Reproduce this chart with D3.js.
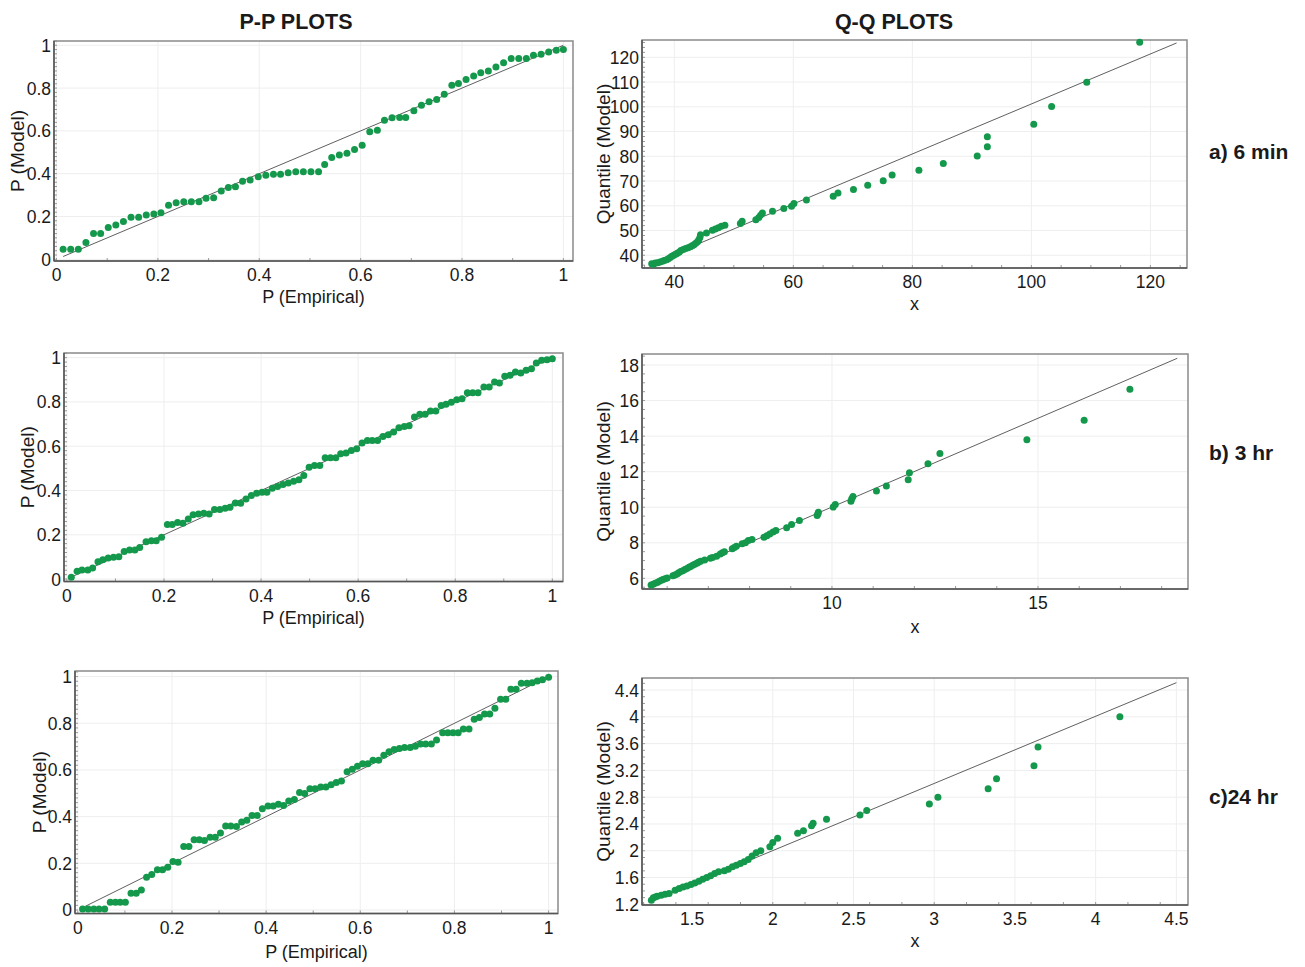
<!DOCTYPE html>
<html>
<head>
<meta charset="utf-8">
<script src="https://cdn.jsdelivr.net/npm/d3@7"></script>
<style>
  body { margin: 0; background: #fff; }
  svg text { font-family: "Liberation Sans", Arial, sans-serif; fill: #1a1a1a; }
</style>
</head>
<body>
<div id="chart"></div>
<script>
// P-P data: [P (Empirical), P (Model)]
var ppA = [[0.013,0.047],[0.028,0.047],[0.043,0.047],[0.058,0.078],[0.073,0.121],[0.087,0.121],[0.102,0.148],[0.117,0.160],[0.132,0.176],[0.147,0.196],[0.162,0.196],[0.177,0.207],[0.192,0.212],[0.206,0.218],[0.221,0.253],[0.236,0.264],[0.251,0.269],[0.266,0.269],[0.281,0.269],[0.295,0.285],[0.310,0.288],[0.325,0.319],[0.339,0.336],[0.353,0.339],[0.367,0.365],[0.382,0.370],[0.398,0.386],[0.413,0.393],[0.428,0.397],[0.442,0.397],[0.457,0.404],[0.472,0.409],[0.487,0.409],[0.502,0.409],[0.517,0.409],[0.529,0.443],[0.543,0.476],[0.558,0.487],[0.573,0.495],[0.588,0.513],[0.603,0.533],[0.618,0.596],[0.633,0.603],[0.647,0.650],[0.662,0.661],[0.677,0.663],[0.689,0.663],[0.705,0.694],[0.720,0.720],[0.735,0.736],[0.750,0.747],[0.765,0.771],[0.780,0.813],[0.793,0.821],[0.808,0.840],[0.823,0.857],[0.837,0.872],[0.852,0.880],[0.867,0.899],[0.882,0.918],[0.897,0.938],[0.912,0.938],[0.927,0.938],[0.941,0.953],[0.956,0.958],[0.971,0.969],[0.986,0.977],[1.0,0.980]];
var ppB = [[0.009,0.008],[0.021,0.035],[0.031,0.041],[0.043,0.041],[0.053,0.050],[0.064,0.078],[0.074,0.087],[0.085,0.095],[0.096,0.098],[0.107,0.101],[0.118,0.124],[0.129,0.131],[0.140,0.131],[0.150,0.143],[0.163,0.169],[0.174,0.173],[0.184,0.173],[0.195,0.189],[0.207,0.246],[0.217,0.246],[0.228,0.256],[0.239,0.252],[0.250,0.271],[0.260,0.290],[0.271,0.294],[0.282,0.297],[0.293,0.294],[0.304,0.314],[0.315,0.314],[0.326,0.320],[0.336,0.324],[0.347,0.344],[0.358,0.342],[0.369,0.362],[0.380,0.377],[0.391,0.388],[0.402,0.392],[0.412,0.392],[0.423,0.410],[0.434,0.418],[0.445,0.427],[0.456,0.434],[0.467,0.442],[0.478,0.449],[0.488,0.468],[0.499,0.505],[0.510,0.513],[0.521,0.513],[0.532,0.548],[0.543,0.548],[0.554,0.548],[0.564,0.566],[0.575,0.569],[0.586,0.581],[0.597,0.588],[0.608,0.615],[0.619,0.626],[0.629,0.626],[0.640,0.626],[0.651,0.644],[0.662,0.652],[0.673,0.664],[0.684,0.683],[0.695,0.689],[0.705,0.692],[0.716,0.732],[0.727,0.744],[0.738,0.744],[0.749,0.759],[0.760,0.759],[0.771,0.784],[0.781,0.789],[0.792,0.799],[0.803,0.810],[0.814,0.814],[0.825,0.842],[0.836,0.842],[0.847,0.842],[0.859,0.867],[0.870,0.867],[0.881,0.890],[0.891,0.885],[0.902,0.916],[0.913,0.920],[0.924,0.935],[0.935,0.931],[0.946,0.943],[0.957,0.950],[0.967,0.976],[0.978,0.988],[0.989,0.991],[1.0,0.995]];
var ppC = [[0.010,0.004],[0.022,0.004],[0.034,0.004],[0.045,0.004],[0.057,0.004],[0.069,0.033],[0.080,0.033],[0.090,0.033],[0.101,0.033],[0.113,0.072],[0.124,0.072],[0.135,0.086],[0.146,0.140],[0.157,0.152],[0.169,0.172],[0.180,0.172],[0.191,0.183],[0.202,0.208],[0.213,0.205],[0.225,0.272],[0.236,0.272],[0.247,0.301],[0.258,0.301],[0.269,0.298],[0.281,0.312],[0.292,0.312],[0.303,0.330],[0.314,0.360],[0.325,0.360],[0.337,0.358],[0.348,0.377],[0.359,0.384],[0.370,0.405],[0.381,0.405],[0.392,0.434],[0.404,0.446],[0.415,0.446],[0.426,0.453],[0.437,0.448],[0.448,0.467],[0.460,0.473],[0.471,0.503],[0.482,0.499],[0.493,0.520],[0.504,0.520],[0.516,0.527],[0.527,0.527],[0.538,0.537],[0.549,0.546],[0.560,0.553],[0.572,0.592],[0.583,0.603],[0.594,0.616],[0.605,0.627],[0.616,0.627],[0.627,0.642],[0.639,0.642],[0.650,0.663],[0.661,0.678],[0.672,0.688],[0.683,0.692],[0.694,0.696],[0.706,0.696],[0.717,0.702],[0.728,0.711],[0.739,0.711],[0.751,0.711],[0.762,0.728],[0.775,0.759],[0.786,0.759],[0.797,0.759],[0.808,0.759],[0.819,0.775],[0.831,0.775],[0.842,0.817],[0.853,0.825],[0.864,0.840],[0.875,0.840],[0.886,0.864],[0.898,0.903],[0.909,0.903],[0.920,0.946],[0.931,0.946],[0.942,0.971],[0.954,0.971],[0.965,0.974],[0.976,0.981],[0.987,0.986],[1.0,0.997]];

// Q-Q data: [x, Quantile (Model)]
var qqA = [[36.2,36.6],[36.5,36.4],[36.8,36.9],[37.2,37.0],[37.6,37.3],[38.0,37.6],[38.3,37.9],[38.7,38.2],[39.0,38.6],[39.3,39.1],[39.6,39.6],[39.9,40.0],[40.2,40.4],[40.5,40.8],[40.8,41.2],[41.1,41.9],[41.5,42.3],[41.9,42.7],[42.3,43.0],[42.7,43.4],[43.0,43.9],[43.3,44.3],[43.6,44.9],[43.9,45.5],[44.1,46.2],[44.3,47.2],[44.4,48.3],[45.4,49.0],[46.4,50.1],[46.9,50.6],[47.4,51.1],[47.9,51.7],[48.5,52.1],[51.1,52.8],[51.4,53.8],[53.7,54.4],[54.2,55.3],[54.5,56.2],[54.8,57.1],[56.5,57.8],[58.4,58.9],[59.7,59.8],[60.1,60.9],[62.2,62.3],[66.7,63.9],[67.5,65.2],[70.1,66.6],[72.5,68.3],[75.1,70.1],[76.6,72.4],[81.1,74.4],[85.2,77.1],[90.9,80.1],[92.6,83.9],[92.6,87.9],[100.4,93.0],[103.4,100.1],[109.3,109.9],[118.2,126.1]];
var qqB = [[5.61,5.62],[5.66,5.67],[5.71,5.72],[5.76,5.77],[5.81,5.83],[5.86,5.89],[5.90,5.94],[5.95,5.98],[6.00,6.02],[6.14,6.15],[6.19,6.19],[6.24,6.24],[6.28,6.31],[6.33,6.38],[6.38,6.43],[6.43,6.49],[6.48,6.56],[6.53,6.62],[6.57,6.67],[6.62,6.73],[6.67,6.79],[6.72,6.85],[6.76,6.90],[6.81,6.96],[6.91,7.03],[7.05,7.13],[7.10,7.17],[7.20,7.24],[7.29,7.37],[7.34,7.44],[7.39,7.50],[7.58,7.66],[7.63,7.73],[7.68,7.81],[7.82,7.94],[7.90,8.00],[7.97,8.13],[8.06,8.18],[8.35,8.31],[8.42,8.40],[8.49,8.50],[8.57,8.60],[8.64,8.69],[8.90,8.84],[9.02,9.03],[9.21,9.25],[9.64,9.54],[9.66,9.63],[9.67,9.72],[10.03,10.01],[10.08,10.16],[10.46,10.34],[10.48,10.48],[10.51,10.61],[11.08,10.91],[11.32,11.19],[11.85,11.55],[11.88,11.94],[12.33,12.45],[12.62,13.02],[14.73,13.80],[16.12,14.90],[17.23,16.64]];
var qqC = [[1.248,1.26],[1.26,1.30],[1.272,1.31],[1.284,1.32],[1.309,1.335],[1.333,1.35],[1.358,1.36],[1.395,1.41],[1.42,1.435],[1.444,1.46],[1.468,1.475],[1.493,1.495],[1.517,1.52],[1.542,1.545],[1.566,1.575],[1.591,1.60],[1.615,1.625],[1.64,1.66],[1.664,1.685],[1.70,1.70],[1.725,1.725],[1.75,1.76],[1.774,1.785],[1.799,1.81],[1.823,1.835],[1.848,1.87],[1.872,1.92],[1.897,1.97],[1.926,2.0],[1.982,2.06],[2.0,2.125],[2.03,2.185],[2.154,2.26],[2.19,2.30],[2.24,2.375],[2.25,2.41],[2.333,2.47],[2.54,2.535],[2.582,2.60],[2.97,2.70],[3.023,2.80],[3.334,2.925],[3.386,3.075],[3.618,3.27],[3.643,3.55],[4.15,4.0]];

// reference line end points
var ppLineA = [[0.013,0.013],[1,1]];
var ppLineB = [[0.009,0.009],[1,1]];
var ppLineC = [[0.01,0.01],[1,1]];
var qqLineA = [[36.2,36.7],[124.4,125.8]];
var qqLineB = [[5.6,5.62],[18.38,18.38]];
var qqLineC = [[1.25,1.25],[4.5,4.51]];

// tick values
var ppTicks = [0, 0.2, 0.4, 0.6, 0.8, 1];
var qqATicksX = [40, 60, 80, 100, 120];
var qqATicksY = [40, 50, 60, 70, 80, 90, 100, 110, 120];
var qqBTicksX = [10, 15];
var qqBTicksY = [6, 8, 10, 12, 14, 16, 18];
var qqCTicksX = [1.5, 2, 2.5, 3, 3.5, 4, 4.5];
var qqCTicksY = [1.2, 1.6, 2, 2.4, 2.8, 3.2, 3.6, 4, 4.4];

var columnTitles = ["P-P PLOTS", "Q-Q PLOTS"];
var rowLabels = ["a) 6 min", "b) 3 hr", "c)24 hr"];

var POINT_COLOR = "#14984b";
var LINE_COLOR = "#606060";

var svg = d3.select("#chart").append("svg")
  .attr("width", 1305)
  .attr("height", 967);

var drawPanel = function(p) {
  var x = d3.scaleLinear().domain(p.xDomain).range([p.x0, p.x1]);
  var y = d3.scaleLinear().domain(p.yDomain).range([p.y1, p.y0]);
  var g = svg.append("g");

  // faint grid
  g.selectAll(".gx").data(p.xTicks).enter().append("line")
    .attr("x1", d => x(d)).attr("x2", d => x(d))
    .attr("y1", p.y0).attr("y2", p.y1)
    .style("stroke", "#eeeeee").style("stroke-width", 1);
  g.selectAll(".gy").data(p.yTicks).enter().append("line")
    .attr("x1", p.x0).attr("x2", p.x1)
    .attr("y1", d => y(d)).attr("y2", d => y(d))
    .style("stroke", "#eeeeee").style("stroke-width", 1);

  // minor ticks
  g.selectAll(".mx").data(x.ticks(p.xMinor)).enter().append("line")
    .attr("x1", d => x(d)).attr("x2", d => x(d))
    .attr("y1", p.y1).attr("y2", p.y1 - 3)
    .style("stroke", "#999").style("stroke-width", 1);
  g.selectAll(".my").data(y.ticks(p.yMinor)).enter().append("line")
    .attr("x1", p.x0).attr("x2", p.x0 + 3)
    .attr("y1", d => y(d)).attr("y2", d => y(d))
    .style("stroke", "#999").style("stroke-width", 1);

  // frame
  g.append("rect")
    .attr("x", p.x0).attr("y", p.y0)
    .attr("width", p.x1 - p.x0).attr("height", p.y1 - p.y0)
    .style("fill", "none").style("stroke", "#8a8a8a").style("stroke-width", 1.5);
  g.append("line")
    .attr("x1", p.x0).attr("x2", p.x0).attr("y1", p.y0).attr("y2", p.y1)
    .style("stroke", "#555").style("stroke-width", 1.5);
  g.append("line")
    .attr("x1", p.x0).attr("x2", p.x1).attr("y1", p.y1).attr("y2", p.y1)
    .style("stroke", "#555").style("stroke-width", 1.5);

  // tick labels
  g.selectAll(".tx").data(p.xTicks).enter().append("text")
    .attr("x", d => x(d)).attr("y", p.y1 + 20)
    .attr("text-anchor", "middle")
    .style("font-size", "17.5px")
    .text(d => String(d));
  g.selectAll(".ty").data(p.yTicks).enter().append("text")
    .attr("x", p.x0 - 3).attr("y", d => y(d) + 6.5)
    .attr("text-anchor", "end")
    .style("font-size", "17.5px")
    .text(d => String(d));

  // reference line
  g.append("line")
    .attr("x1", x(p.line[0][0])).attr("y1", y(p.line[0][1]))
    .attr("x2", x(p.line[1][0])).attr("y2", y(p.line[1][1]))
    .style("stroke", LINE_COLOR).style("stroke-width", 1);

  // points
  g.selectAll(".pt").data(p.data).enter().append("circle")
    .attr("cx", d => x(d[0])).attr("cy", d => y(d[1]))
    .attr("r", 3.5)
    .style("fill", POINT_COLOR);

  // axis titles
  g.append("text")
    .attr("x", (p.x0 + p.x1) / 2).attr("y", p.y1 + p.xLabelDy)
    .attr("text-anchor", "middle")
    .style("font-size", "18px")
    .text(p.xLabel);
  g.append("text")
    .attr("transform", "translate(" + (p.x0 - p.yLabelDx) + "," + ((p.y0 + p.y1) / 2) + ") rotate(-90)")
    .attr("text-anchor", "middle")
    .style("font-size", "19px")
    .text(p.yLabel);
};

var panels = [
  { data: ppA, line: ppLineA, x0: 54, x1: 573, y0: 41, y1: 261, xDomain: [-0.005, 1.019], yDomain: [-0.008, 1.02],
    xTicks: ppTicks, yTicks: ppTicks, xMinor: 10, yMinor: 40, xLabel: "P (Empirical)", yLabel: "P (Model)", xLabelDy: 42, yLabelDx: 30 },
  { data: ppB, line: ppLineB, x0: 64, x1: 563, y0: 353, y1: 581.5, xDomain: [-0.006, 1.022], yDomain: [-0.011, 1.021],
    xTicks: ppTicks, yTicks: ppTicks, xMinor: 10, yMinor: 40, xLabel: "P (Empirical)", yLabel: "P (Model)", xLabelDy: 42, yLabelDx: 30 },
  { data: ppC, line: ppLineC, x0: 75, x1: 558, y0: 671, y1: 913.5, xDomain: [-0.006, 1.02], yDomain: [-0.015, 1.024],
    xTicks: ppTicks, yTicks: ppTicks, xMinor: 10, yMinor: 40, xLabel: "P (Empirical)", yLabel: "P (Model)", xLabelDy: 44, yLabelDx: 29 },
  { data: qqA, line: qqLineA, x0: 642, x1: 1187, y0: 40, y1: 268, xDomain: [34.57, 126.15], yDomain: [34.86, 127],
    xTicks: qqATicksX, yTicks: qqATicksY, xMinor: 20, yMinor: 40, xLabel: "x", yLabel: "Quantile (Model)", xLabelDy: 42, yLabelDx: 32 },
  { data: qqB, line: qqLineB, x0: 642, x1: 1188, y0: 354, y1: 589, xDomain: [5.39, 18.64], yDomain: [5.4, 18.62],
    xTicks: qqBTicksX, yTicks: qqBTicksY, xMinor: 15, yMinor: 30, xLabel: "x", yLabel: "Quantile (Model)", xLabelDy: 44, yLabelDx: 32 },
  { data: qqC, line: qqLineC, x0: 642, x1: 1188, y0: 678, y1: 905, xDomain: [1.19, 4.572], yDomain: [1.19, 4.58],
    xTicks: qqCTicksX, yTicks: qqCTicksY, xMinor: 20, yMinor: 40, xLabel: "x", yLabel: "Quantile (Model)", xLabelDy: 42, yLabelDx: 32 }
];

panels.forEach(drawPanel);

// column titles
svg.selectAll(".coltitle").data(columnTitles).enter().append("text")
  .attr("x", (d, i) => i === 0 ? 296 : 894)
  .attr("y", 29)
  .attr("text-anchor", "middle")
  .style("font-size", "21.5px")
  .style("font-weight", "bold")
  .text(d => d);

// row labels
svg.selectAll(".rowlabel").data(rowLabels).enter().append("text")
  .attr("x", 1209)
  .attr("y", (d, i) => [159, 460, 804][i])
  .style("font-size", "21px")
  .style("font-weight", "bold")
  .text(d => d);
</script>
</body>
</html>
